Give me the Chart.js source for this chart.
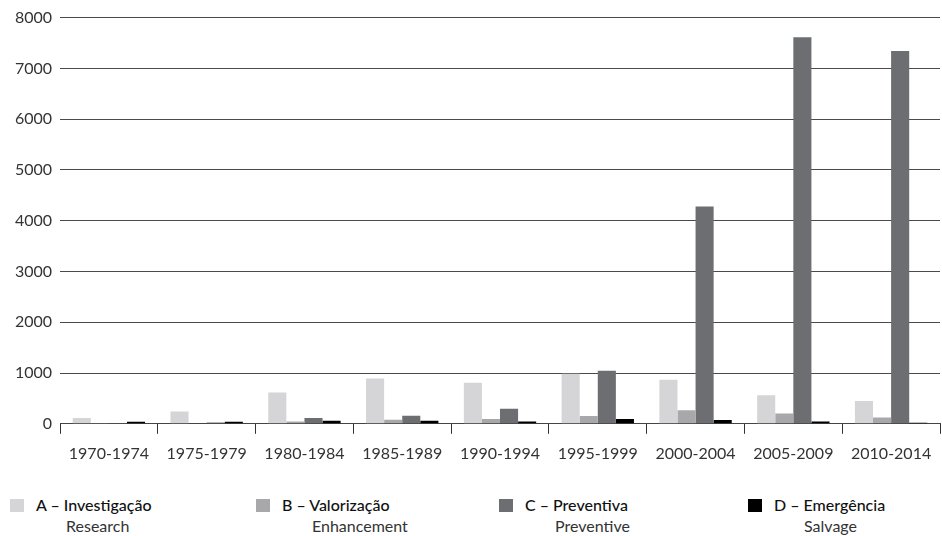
<!DOCTYPE html>
<html>
<head>
<meta charset="utf-8">
<script src="https://cdn.jsdelivr.net/npm/chart.js@4/dist/chart.umd.min.js"></script>
<style>
  html, body { margin: 0; padding: 0; background: #fff; }
  #wrap { position: relative; width: 942px; height: 536px; font-family: Lato, "Open Sans", sans-serif; }
  #chart { position: absolute; left: 0; top: 0; }
  .swatch { position: absolute; width: 14px; height: 13px; }
  .lbl { position: absolute; font-size: 16px; color: #111; white-space: nowrap; line-height: 18px; }
  .lbl.main { font-weight: 500; }
  .lbl.sub { font-weight: 400; color: #333; }
</style>
</head>
<body>
<div id="wrap">
  <canvas id="chart" width="942" height="479"></canvas>
  <div id="legend"></div>
</div>
<script>
const periods = ["1970-1974", "1975-1979", "1980-1984", "1985-1989", "1990-1994",
  "1995-1999", "2000-2004", "2005-2009", "2010-2014"];

const investigacao = [115, 240, 615, 890, 810, 985, 870, 560, 450];
const valorizacao = [8, 10, 45, 80, 95, 155, 265, 205, 125];
const preventiva = [15, 25, 115, 160, 295, 1045, 4280, 7615, 7340];
const emergencia = [40, 40, 60, 60, 45, 95, 75, 45, 20];

const seriesNames = ["A – Investigação", "B – Valorização", "C – Preventiva", "D – Emergência"];
const seriesSubs = ["Research", "Enhancement", "Preventive", "Salvage"];
const seriesColors = ["#d5d5d7", "#a8a8aa", "#6d6e71", "#000000"];

const yTicks = [0, 1000, 2000, 3000, 4000, 5000, 6000, 7000, 8000];

const allSeries = [investigacao, valorizacao, preventiva, emergencia];

new Chart(document.getElementById("chart"), {
  type: "bar",
  data: {
    labels: periods,
    datasets: allSeries.map((values, i) => ({
      label: seriesNames[i],
      data: values,
      backgroundColor: seriesColors[i],
      borderWidth: 0,
      categoryPercentage: 0.74,
      barPercentage: 1.0,
    })),
  },
  options: {
    responsive: false,
    animation: false,
    devicePixelRatio: 1,
    layout: { padding: { top: 10, right: 2, bottom: 6, left: 0 } },
    plugins: { legend: { display: false }, tooltip: { enabled: false } },
    scales: {
      x: {
        grid: { offset: true, drawOnChartArea: false, tickLength: 10, color: "#333" },
        border: { display: true, color: "#444" },
        ticks: { color: "#333", padding: 10, font: { family: "Lato", size: 16 } },
      },
      y: {
        min: 0,
        max: 8000,
        afterBuildTicks: (axis) => {
          axis.ticks = yTicks.map((v) => ({ value: v }));
        },
        afterFit: (axis) => {
          axis.width = 60;
        },
        grid: { drawTicks: false, color: "#4a4a4a", lineWidth: 1 },
        border: { display: false },
        ticks: {
          color: "#333",
          padding: 8,
          font: { family: "Lato", size: 16 },
          callback: (v) => String(v),
        },
      },
    },
  },
});

// legend drawn as html underneath
const legendX = [10, 256, 499, 748];
const legend = document.getElementById("legend");
legend.innerHTML = seriesNames.map((name, i) => `
  <div class="swatch" style="left:${legendX[i]}px;top:499px;background:${seriesColors[i]}"></div>
  <div class="lbl main" style="left:${legendX[i] + 26}px;top:496px">${name}</div>
  <div class="lbl sub" style="left:${legendX[i] + 56}px;top:517px">${seriesSubs[i]}</div>`).join("");
</script>
</body>
</html>
